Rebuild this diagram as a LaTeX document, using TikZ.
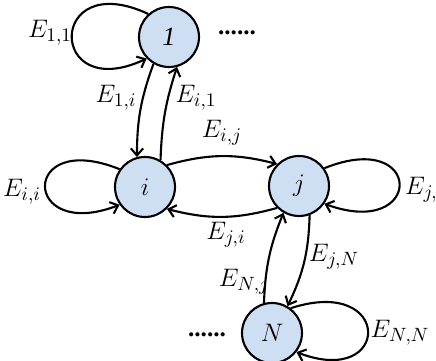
\documentclass[tikz,border=0pt]{standalone}
\usepackage{fontspec}
\setmainfont{Liberation Serif}
\usepackage{tikz}
\usetikzlibrary{positioning,arrows.meta}
\definecolor{cnode}{HTML}{CFDFF3}
\newcommand{\elab}[1]{$E_{#1}$}

\begin{document}
\begin{tikzpicture}[x=0.02cm,y=0.02cm,
    state/.style={circle,draw,line width=1.2pt,fill=cnode,minimum size=1.2cm,inner sep=0pt,font=\fontsize{15}{17}\selectfont},
    lbl/.style={font=\fontsize{15}{17}\selectfont},
    edge/.style={line width=1.2pt,-{Straight Barb[length=4pt,width=7pt]}}]
    \useasboundingbox (0,0) rectangle (436,361);

    \node[state] (n1) at (169,324) {$\mathit{1}$};
    \node[state] (ni) at (145,174) {$i$};
    \node[state] (nj) at (299,175) {$j$};
    \node[state] (nN) at (272,28) {$N$};

    \draw[edge] (n1.132) .. controls +(155:112) and +(205:110) .. (n1.224);
    \draw[edge] (ni.145) .. controls +(158:108) and +(201:105) .. (ni.215);
    \draw[edge] (nj.35) .. controls +(22:108) and +(-20:106) .. (nj.-35);
    \draw[edge] (nN.53) .. controls +(18:108) and +(-21:102) .. (nN.-38);

    \draw[edge] (n1.240) to[bend right=10] (ni.105);
    \draw[edge] (ni.60) to[bend left=8] (n1.285);
    \draw[edge] (ni.45) to[bend left=15] (nj.135);
    \draw[edge] (nj.225) to[bend left=15] (ni.315);
    \draw[edge] (nN.105) to[bend left=10] (nj.240);
    \draw[edge] (nj.290) to[bend left=12] (nN.60);

    \node[lbl] (l11) at (50,328) {\elab{1,1}};
    \node[lbl] (l1i) at (116,263) {\elab{1,i}};
    \node[lbl] (li1) at (196,263) {\elab{i,1}};
    \node[lbl] (lij) at (222,228) {\elab{i,j}};
    \node[lbl] (lii) at (22,169) {\elab{i,i}};
    \node[lbl] (ljj) at (426,171) {\elab{j,j}};
    \node[lbl] (lji) at (226,126) {\elab{j,i}};
    \node[lbl] (ljN) at (334,104) {\elab{j,N}};
    \node[lbl] (lNj) at (244,79) {\elab{N,j}};
    \node[lbl] (lNN) at (400,28) {\elab{N,N}};

    \node[font=\Large\bfseries] (dtop) at (237,328) {......};
    \node[font=\Large\bfseries] (dbot) at (207,26) {......};
\end{tikzpicture}
\end{document}
